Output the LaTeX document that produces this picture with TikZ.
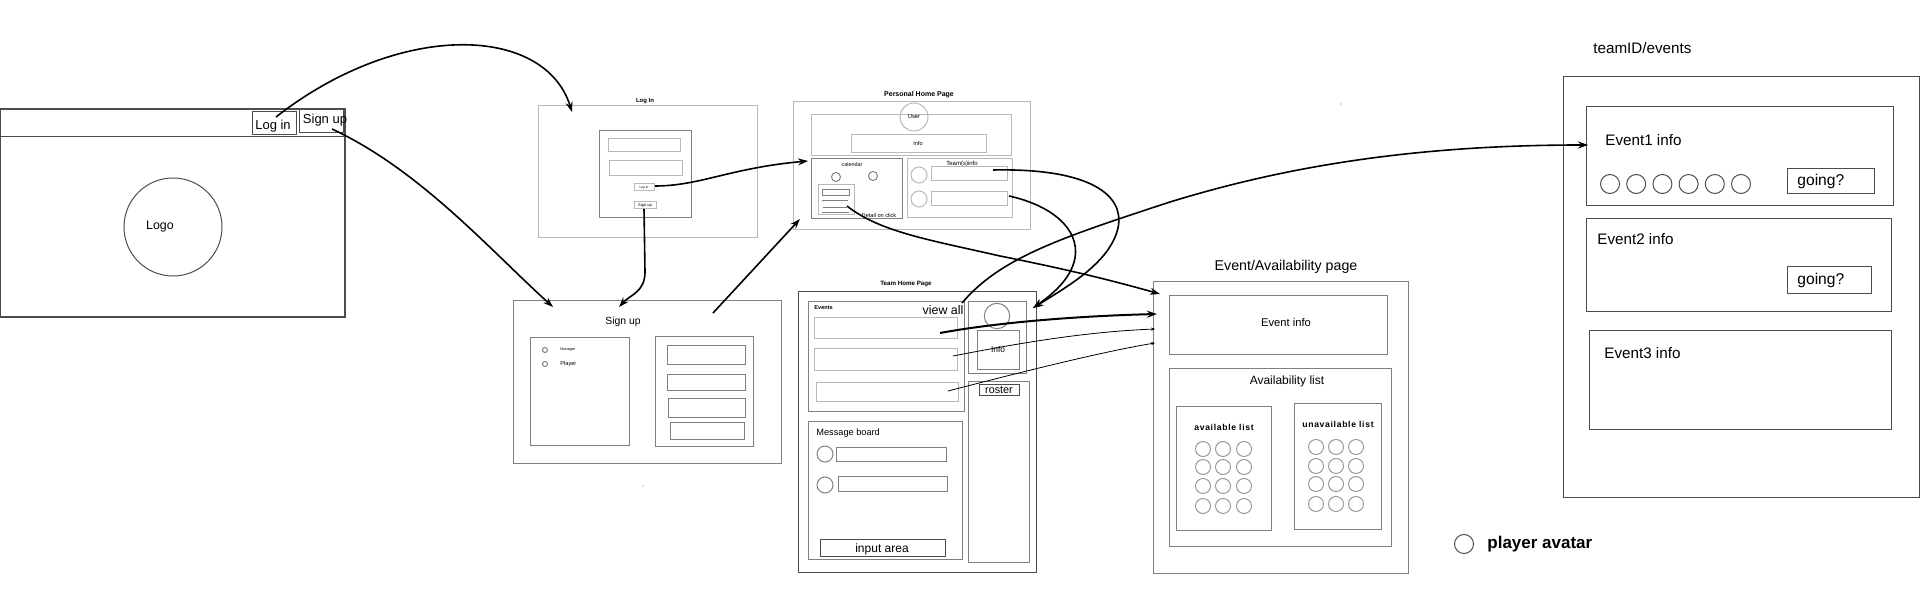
\documentclass[tikz,border=0pt]{standalone}
\usepackage{fontspec}
\setmainfont{Liberation Sans}
\usetikzlibrary{arrows.meta}
\definecolor{framegray}{gray}{0.3}
\definecolor{panelgray}{gray}{0.5}
\definecolor{faintgray}{gray}{0.72}
\tikzset{
  frame/.style={draw=framegray, line width=0.5pt},
  panel/.style={draw=panelgray, line width=0.5pt},
  faint/.style={draw=faintgray, line width=0.5pt},
  flow/.style={line width=0.8pt, -{Stealth[length=5pt,width=3.5pt]}},
  thinflow/.style={line width=0.4pt, -{Stealth[length=2pt,width=1.6pt]}},
}

\begin{document}
\begin{tikzpicture}[x=0.5pt,y=-0.5pt,every node/.style={inner sep=0pt}]
\useasboundingbox (0,0) rectangle (1920,597);

% landing page
\draw[frame,line width=0.8pt] (0,109) rectangle (345,317);
\draw[frame] (0,137) -- (345,137);
\draw[frame] (252,112) rectangle (296,135);
\draw[frame] (299,109) rectangle (343,133);
\node (landlogin) at (273,126) {\fontsize{6.5}{8}\selectfont Log in};
\node (landsignup) at (325,120) {\fontsize{6.5}{8}\selectfont Sign up};
\draw[frame] (173,227) circle (49);
\node (logo) at (160,227) {\fontsize{6.2}{8}\selectfont Logo};

% log in page
\node (logintitle) at (645,101) {\fontsize{3}{4}\selectfont\bfseries Log In};
\draw[faint] (538,106) rectangle (757,238);
\draw[panel] (599,131) rectangle (691,218);
\draw[faint] (608,139) rectangle (680,152);
\draw[faint] (609,161) rectangle (682,176);
\draw[faint] (634,184) rectangle (654,191);
\node (loginbtn) at (644,187.5) {\fontsize{1.6}{2}\selectfont Log In};
\draw[faint] (634,202) rectangle (656,209);
\node (signupbtn) at (645,205.5) {\fontsize{2}{2.5}\selectfont Sign up};

% personal home page
\node (hometitle) at (919,95) {\fontsize{3.5}{4}\selectfont\bfseries Personal Home Page};
\draw[faint] (793,102) rectangle (1030,230);
\draw[faint] (811,115) rectangle (1011,156);
\draw[faint] (914,117) circle (14);
\node (user) at (914,117) {\fontsize{2.9}{3.5}\selectfont User};
\draw[faint] (851,135) rectangle (986,153);
\node (info) at (918,144) {\fontsize{2.8}{3.5}\selectfont Info};
\draw[panel] (811,159) rectangle (902,219);
\node (calendar) at (852,165) {\fontsize{2.7}{3.5}\selectfont calendar};
\draw[panel] (836,177) circle (4.5);
\draw[panel] (873,176) circle (4.5);
\draw[faint] (818,185) rectangle (854,215);
\draw[panel] (822,190) rectangle (849,196);
\draw[panel] (822,201) -- (848,201);
\draw[panel] (823,208) -- (847,208);
\draw[panel] (822,213) -- (849,213);
\node (detail) at (879,216) {\fontsize{2.8}{3.5}\selectfont Detail on click};
\draw[faint] (907,159) rectangle (1012,218);
\node (teamsinfo) at (962,164) {\fontsize{3}{3.5}\selectfont Team(s)info};
\draw[faint] (919,175) circle (8);
\draw[faint] (919,199) circle (8);
\draw[faint] (931,167) rectangle (1007,181);
\draw[faint] (931,192) rectangle (1007,206);

% sign up page
\draw[panel] (513,301) rectangle (781,464);
\node (signuptitle) at (623,322) {\fontsize{5.2}{6}\selectfont Sign up};
\draw[panel] (530,338) rectangle (629,446);
\draw[panel] (545,350) circle (2.5);
\draw[panel] (545,364) circle (2.5);
\node[anchor=west] (manager) at (560,350) {\fontsize{1.9}{2.5}\selectfont Manager};
\node[anchor=west] (player) at (560,364) {\fontsize{2.8}{3.5}\selectfont Player};
\draw[panel] (655,337) rectangle (753,447);
\draw[panel] (667,346) rectangle (745,365);
\draw[panel] (667,375) rectangle (745,391);
\draw[panel] (668,399) rectangle (745,418);
\draw[panel] (670,423) rectangle (744,440);

% team home page
\node (teamtitle) at (906,284) {\fontsize{3.1}{4}\selectfont\bfseries Team Home Page};
\draw[frame] (798,292) rectangle (1036,573);
\draw[panel] (808,302) rectangle (964,412);
\node[anchor=west] (events) at (814,308) {\fontsize{2.8}{3.5}\selectfont\bfseries Events};
\node (viewall) at (943,310) {\fontsize{6.2}{7}\selectfont view all};
\draw[faint] (814,318) rectangle (957,339);
\draw[faint] (814,349) rectangle (957,371);
\draw[faint] (816,383) rectangle (958,402);
\draw[panel] (968,302) rectangle (1026,374);
\draw[panel] (997,316) circle (12.7);
\draw[panel] (977,331) rectangle (1019,370);
\node (teaminfo) at (998,350) {\fontsize{4.2}{5}\selectfont Info};
\draw[panel] (968,382) rectangle (1029,563);
\draw[frame] (979,385) rectangle (1019,396);
\node (roster) at (999,390.5) {\fontsize{5.4}{6}\selectfont roster};
\draw[panel] (808,422) rectangle (962,560);
\node[anchor=west] (msgboard) at (816,433) {\fontsize{4.6}{5.5}\selectfont Message board};
\draw[panel] (825,454) circle (8);
\draw[panel] (825,485) circle (8);
\draw[panel] (836,448) rectangle (946,462);
\draw[panel] (838,477) rectangle (947,492);
\draw[frame] (820,540) rectangle (945,557);
\node (inputarea) at (882,549) {\fontsize{6}{7}\selectfont input area};

% event / availability page
\node (eventtitle) at (1286,267) {\fontsize{7.1}{8}\selectfont Event/Availability page};
\draw[panel] (1153,282) rectangle (1408,574);
\draw[panel] (1169,296) rectangle (1387,355);
\node (eventinfo) at (1286,323) {\fontsize{5.6}{6.5}\selectfont Event info};
\draw[panel] (1169,369) rectangle (1391,547);
\node (availtitle) at (1287,381) {\fontsize{6}{7}\selectfont Availability list};
\draw[panel] (1176,407) rectangle (1271,531);
\node (availlist) at (1224,427) {\fontsize{4.3}{5}\selectfont\bfseries\addfontfeatures{LetterSpace=8}available list};
\foreach \cx in {1203,1223,1244}
  \foreach \cy in {449,467,486,506}
    \draw[faint,draw=panelgray!80] (\cx,\cy) circle (7.5);
\draw[panel] (1294,404) rectangle (1381,530);
\node (unavaillist) at (1338,424) {\fontsize{4.3}{5}\selectfont\bfseries\addfontfeatures{LetterSpace=8}unavailable list};
\foreach \cx in {1316,1336,1356}
  \foreach \cy in {447,466,484,504}
    \draw[faint,draw=panelgray!80] (\cx,\cy) circle (7.5);

% teamID/events page
\node[anchor=west] (teamevents) at (1593,48) {\fontsize{7.6}{9}\selectfont teamID/events};
\draw[frame] (1563,77) rectangle (1919,498);
\draw[frame] (1586,107) rectangle (1893,206);
\node[anchor=west] (event1) at (1605,140) {\fontsize{7.6}{9}\selectfont Event1 info};
\foreach \i in {0,...,5}
  \draw[frame] (1610+26.2*\i,184) circle (9.5);
\draw[frame] (1787,169) rectangle (1874,194);
\node[anchor=west] (going1) at (1797,181) {\fontsize{7.8}{9}\selectfont going?};
\draw[frame] (1586,219) rectangle (1891,312);
\node[anchor=west] (event2) at (1597,239) {\fontsize{7.6}{9}\selectfont Event2 info};
\draw[frame] (1787,267) rectangle (1871,294);
\node[anchor=west] (going2) at (1797,280) {\fontsize{7.8}{9}\selectfont going?};
\draw[frame] (1589,331) rectangle (1891,430);
\node[anchor=west] (event3) at (1604,353) {\fontsize{7.6}{9}\selectfont Event3 info};

% legend
\draw[frame] (1464,544) circle (9.5);
\node[anchor=west] (avatarlabel) at (1487,544) {\fontsize{8.5}{10}\selectfont\bfseries player avatar};

% stray dots
\fill[faintgray] (1341,104) circle (0.8);
\fill[faintgray] (643,486) circle (0.8);

% flows between pages
\coordinate (landloginfrom) at (276,117);
\coordinate (loginpage) at (572,112);
\draw[flow] (landloginfrom) .. controls (400,20) and (545,25) .. (loginpage);
\coordinate (landsignupfrom) at (332,129);
\coordinate (signuppage) at (553,307);
\draw[flow] (landsignupfrom) .. controls (420,170) and (490,250) .. (signuppage);
\coordinate (loginbtnfrom) at (655,186);
\coordinate (calendarpanel) at (808,161);
\draw[flow] (loginbtnfrom) .. controls (700,186) and (730,168) .. (calendarpanel);
\coordinate (signupbtnfrom) at (644,209);
\coordinate (signuptop) at (619,307);
\draw[flow] (signupbtnfrom) -- (645,272) .. controls (645,292) and (630,295) .. (signuptop);
\coordinate (signupfrom) at (713,313);
\coordinate (homepage) at (800,219);
\draw[flow] (signupfrom) -- (homepage);
\coordinate (detailfrom) at (847,206);
\coordinate (eventpage) at (1160,294);
\draw[flow] (detailfrom) .. controls (880,232) and (930,240) .. (1000,256)
  .. controls (1070,270) and (1110,280) .. (eventpage);
\coordinate (teamonefrom) at (993,170);
\coordinate (teamtwofrom) at (1009,196);
\coordinate (teampanel) at (1033,308);
\draw[flow] (teamonefrom) .. controls (1090,168) and (1125,195) .. (1118,228)
  .. controls (1110,262) and (1070,285) .. (teampanel);
\draw[flow] (teamtwofrom) .. controls (1050,205) and (1080,228) .. (1075,258)
  .. controls (1071,280) and (1050,296) .. (teampanel);
\coordinate (viewallfrom) at (962,303);
\coordinate (eventonebox) at (1588,145);
\draw[flow] (viewallfrom) .. controls (1000,258) and (1060,238) .. (1170,202)
  .. controls (1290,165) and (1420,145) .. (eventonebox);
\coordinate (rowonefrom) at (940,333);
\coordinate (eventinfobox) at (1157,314);
\draw[flow,line width=1pt] (rowonefrom) .. controls (1000,322) and (1080,316) .. (eventinfobox);
\coordinate (rowtwofrom) at (953,356);
\coordinate (eventinfomid) at (1155,329);
\draw[thinflow] (rowtwofrom) .. controls (1010,345) and (1080,332) .. (eventinfomid);
\coordinate (rowthreefrom) at (948,391);
\coordinate (eventinfolow) at (1155,343);
\draw[thinflow] (rowthreefrom) .. controls (1010,375) and (1100,352) .. (eventinfolow);
\end{tikzpicture}
\end{document}
